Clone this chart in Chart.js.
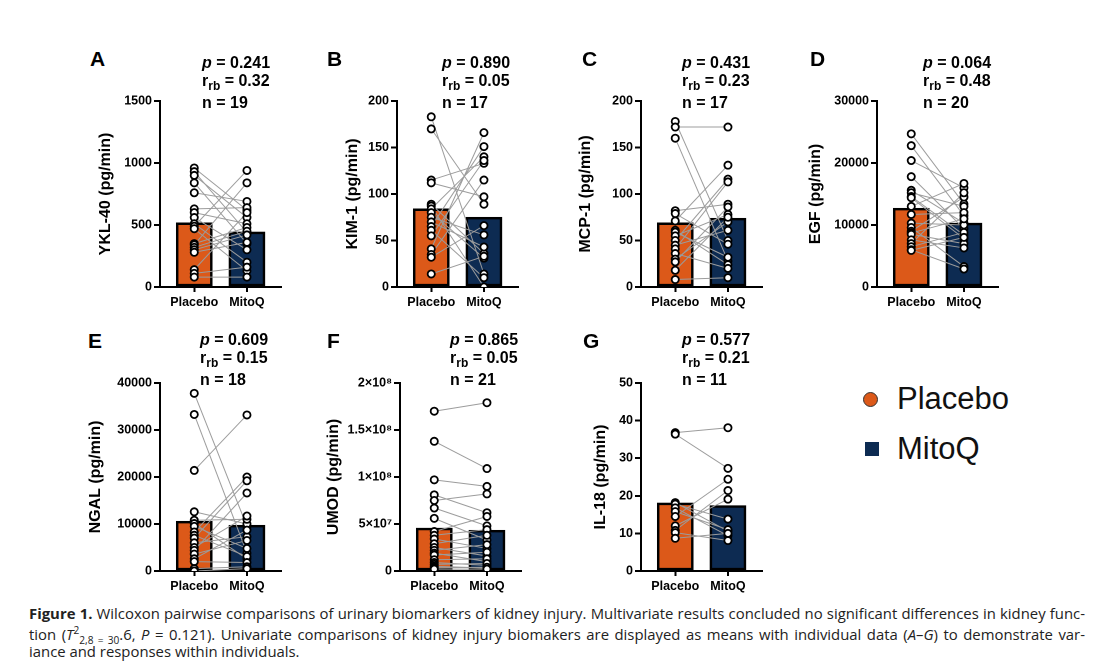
<!DOCTYPE html>
<html>
<head>
<meta charset="utf-8">
<script src="https://cdn.jsdelivr.net/npm/chart.js@4.4.1/dist/chart.umd.min.js"></script>
<style>
  body { margin: 0; background: #fff; width: 1098px; height: 666px; position: relative; overflow: hidden; font-family: "Liberation Sans", Arial, sans-serif; }
  .box { position: absolute; }
  .letter { position: absolute; font: bold 21px "Liberation Sans", Arial, sans-serif; color: #000; line-height: 1; }
  .stat { position: absolute; font: bold 16px "Liberation Sans", Arial, sans-serif; color: #000; line-height: 1; white-space: nowrap; }
  .stat sub { font-size: 12px; vertical-align: -4px; }
  .legend-item { position: absolute; font: 31px "Liberation Sans", Arial, sans-serif; color: #111; line-height: 1; }
  .caption { position: absolute; left: 29px; width: 1056px; font-family: "Open Sans", sans-serif; font-size: 13px; color: #222; line-height: 1; text-align: justify; text-align-last: justify; white-space: nowrap; }
  .caption.last { text-align-last: left; }
  .caption sup, .caption sub { font-size: 0.68em; }
</style>
</head>
<body>

<script>
// Kategori dan warna
const categories = ['Placebo', 'MitoQ'];
const orange = '#DC5919';
const navy = '#0D2B52';

// A - YKL-40 (pasangan: indeks yang sama = subjek yang sama)
const yklPlacebo = [960, 930, 900, 840, 760, 630, 600, 560, 510, 490, 470, 350, 340, 320, 300, 280, 140, 110, 80];
const yklMitoQ   = [620, 440, 560, 350, 690, 640, 510, 300, 200, 940, 130, 480, 840, 450, 420, 360, 600, 160, 80];
const yklMeans   = [517, 444];

// B - KIM-1
const kimPlacebo = [183, 170, 115, 112, 89, 87, 84, 80, 75, 70, 65, 61, 55, 41, 35, 32, 14];
const kimMitoQ   = [14, 89, 133, 97, 36, 0, 140, 31, 56, 43, 151, 10, 136, 166, 115, 66, 33];
const kimMeans   = [84, 75];

// C - MCP-1
const mcpPlacebo = [178, 172, 160, 82, 79, 71, 61, 59, 55, 50, 45, 41, 36, 30, 27, 18, 8];
const mcpMitoQ   = [50, 172, 28, 89, 46, 131, 24, 32, 78, 116, 61, 113, 20, 70, 86, 75, 10];
const mcpMeans   = [69, 74];

// D - EGF
const egfPlacebo = [24700, 22800, 20400, 17800, 15600, 15200, 14600, 14400, 13000, 11700, 10300, 9600, 9000, 8700, 8500, 7600, 7000, 6500, 6000, 5900];
const egfMitoQ   = [13400, 11500, 16000, 9400, 10300, 13000, 8400, 7800, 16700, 12000, 10000, 3300, 14500, 11000, 7000, 6300, 15200, 8800, 2900, 8000];
const egfMeans   = [12700, 10300];

// E - NGAL
const ngalPlacebo = [37800, 33300, 21400, 12600, 10800, 10100, 9500, 8300, 7600, 7000, 6000, 5000, 4400, 3600, 2600, 2000, 500, 0];
const ngalMitoQ   = [9500, 3800, 33200, 10000, 11000, 2600, 4800, 20000, 3100, 19200, 7300, 11700, 16600, 6500, 8700, 1800, 900, 500];
const ngalMeans   = [10600, 9750];

// F - UMOD
const umodPlacebo = [1.70e8, 1.38e8, 9.7e7, 8.1e7, 7.5e7, 6.7e7, 5.6e7, 4.2e7, 3.8e7, 3.4e7, 2.9e7, 2.5e7, 2.2e7, 1.9e7, 1.7e7, 1.2e7, 9e6, 7e6, 5e6, 3.5e6, 2e6];
const umodMitoQ   = [1.79e8, 1.09e8, 9.0e7, 6.2e7, 8.2e7, 4.8e7, 3.3e7, 5.8e7, 4.4e7, 2.4e7, 3.8e7, 1.6e7, 2.8e7, 1.0e7, 2.0e7, 1.3e7, 6e6, 8e6, 3e6, 4e6, 2e6];
const umodMeans   = [4.56e7, 4.34e7];
const umodTicks   = ['0', '5×10⁷', '1×10⁸', '1.5×10⁸', '2×10⁸'];

// G - IL-18
const il18Placebo = [36.8, 36.4, 18.2, 17.8, 16.8, 15.8, 14.5, 12.0, 10.8, 10.2, 8.7];
const il18MitoQ   = [38.1, 27.3, 10.6, 13.8, 9.4, 11.0, 24.4, 19.1, 21.4, 8.1, 10.0];
const il18Means   = [18.1, 17.4];

// Panel: posisi sumbu (x sumbu-y, atas, tinggi plot) dan teks statistik
const panels = [
  { id: 'A', title: 'YKL-40 (pg/min)', pl: yklPlacebo, mq: yklMitoQ, means: yklMeans, max: 1500, step: 500, ax: 160, top: 101, h: 186, tpad: 36, p: '0.241', r: '0.32', n: 19, lx: 90, sx: 202, row: 0 },
  { id: 'B', title: 'KIM-1 (pg/min)', pl: kimPlacebo, mq: kimMitoQ, means: kimMeans, max: 200, step: 50, ax: 397, top: 101, h: 186, tpad: 46, p: '0.890', r: '0.05', n: 17, lx: 327, sx: 442, row: 0 },
  { id: 'C', title: 'MCP-1 (pg/min)', pl: mcpPlacebo, mq: mcpMitoQ, means: mcpMeans, max: 200, step: 50, ax: 641, top: 101, h: 186, tpad: 35, p: '0.431', r: '0.23', n: 17, lx: 582, sx: 682, row: 0 },
  { id: 'D', title: 'EGF (pg/min)', pl: egfPlacebo, mq: egfMitoQ, means: egfMeans, max: 30000, step: 10000, ax: 877, top: 101, h: 186, tpad: 29, p: '0.064', r: '0.48', n: 20, lx: 810, sx: 923, row: 0 },
  { id: 'E', title: 'NGAL (pg/min)', pl: ngalPlacebo, mq: ngalMitoQ, means: ngalMeans, max: 40000, step: 10000, ax: 160, top: 383, h: 188, tpad: 26, p: '0.609', r: '0.15', n: 18, lx: 88, sx: 200, row: 1 },
  { id: 'F', title: 'UMOD (pg/min)', pl: umodPlacebo, mq: umodMitoQ, means: umodMeans, max: 2e8, step: 5e7, ax: 400, top: 383, h: 188, tpad: 24, p: '0.865', r: '0.05', n: 21, lx: 327, sx: 450, row: 1, ticks: umodTicks },
  { id: 'G', title: 'IL-18 (pg/min)', pl: il18Placebo, mq: il18MitoQ, means: il18Means, max: 50, step: 10, ax: 641, top: 383, h: 188, tpad: 50, p: '0.577', r: '0.21', n: 11, lx: 583, sx: 682, row: 1 }
];

const statRows = [[55, 73, 95], [332, 350, 372]];
const letterTop = [48, 330];

// geser kanvas supaya area plot tepat di posisi sumbu
const placePlugin = {
  id: 'place',
  afterLayout(chart, args, opts) {
    const box = chart.canvas.parentNode;
    box.style.left = (opts.x - chart.chartArea.left) + 'px';
    box.style.top = (opts.y - chart.chartArea.top) + 'px';
  }
};

const YW = 100;
const PLOT_W = 123;
const XH = 30;
const TOPPAD = 10;

function addText(cls, x, y, html) {
  const el = document.createElement('div');
  el.className = cls;
  el.style.left = x + 'px';
  el.style.top = y + 'px';
  el.innerHTML = html;
  document.body.appendChild(el);
}

panels.forEach(pn => {
  const box = document.createElement('div');
  box.className = 'box';
  const cv = document.createElement('canvas');
  const w = YW + PLOT_W + 4;
  const h = TOPPAD + pn.h + XH;
  cv.width = w; cv.height = h;
  cv.style.width = w + 'px'; cv.style.height = h + 'px';
  box.appendChild(cv);
  document.body.appendChild(box);

  // garis abu-abu untuk tiap pasangan
  const pairSets = pn.pl.map((v, i) => ({
    type: 'line',
    data: [{ x: 0, y: v }, { x: 1, y: pn.mq[i] }],
    borderColor: '#9c9c9c',
    borderWidth: 1,
    pointRadius: 0,
    order: 2
  }));

  const dotStyle = {
    type: 'line',
    showLine: false,
    pointRadius: 3.6,
    pointBorderWidth: 1.8,
    pointBackgroundColor: '#fff',
    pointBorderColor: '#000',
    order: 1
  };

  new Chart(cv, {
    type: 'bar',
    data: {
      datasets: [
        {
          type: 'bar',
          data: pn.means.map((m, i) => ({ x: i, y: m })),
          backgroundColor: [orange, navy],
          borderColor: '#000',
          borderWidth: 2.5,
          borderSkipped: false,
          barThickness: 36,
          order: 3
        },
        ...pairSets,
        Object.assign({ data: pn.pl.map(v => ({ x: 0, y: v })) }, dotStyle),
        Object.assign({ data: pn.mq.map(v => ({ x: 1, y: v })) }, dotStyle)
      ]
    },
    options: {
      responsive: false,
      animation: false,
      devicePixelRatio: 2,
      layout: { padding: { top: TOPPAD, right: 4, left: 0, bottom: 0 } },
      plugins: {
        legend: { display: false },
        tooltip: { enabled: false },
        place: { x: pn.ax, y: pn.top }
      },
      scales: {
        x: {
          type: 'linear',
          offset: false,
          min: -0.65,
          max: 1.65,
          afterBuildTicks: s => { s.ticks = categories.map((c, i) => ({ value: i })); },
          afterFit: s => { s.height = XH; },
          grid: { offset: false, drawOnChartArea: false, drawTicks: true, tickLength: 5, color: '#000', lineWidth: 2 },
          border: { display: true, color: '#000', width: 2 },
          ticks: {
            autoSkip: false,
            maxRotation: 0,
            padding: 3,
            color: '#000',
            font: { family: 'Liberation Sans', weight: 'bold', size: 12.5 },
            callback: v => categories[v]
          }
        },
        y: {
          min: 0,
          max: pn.max,
          afterFit: s => { s.width = YW; },
          grid: { drawOnChartArea: false, drawTicks: true, tickLength: 6, color: '#000', lineWidth: 2 },
          border: { display: true, color: '#000', width: 2 },
          ticks: {
            stepSize: pn.step,
            padding: 2,
            color: '#000',
            font: { family: 'Liberation Sans', weight: 'bold', size: 12.5 },
            callback: (v, i) => pn.ticks ? pn.ticks[i] : String(v)
          },
          title: {
            display: true,
            text: pn.title,
            color: '#000',
            padding: { top: pn.tpad, bottom: 0 },
            font: { family: 'Liberation Sans', weight: 'bold', size: 16 }
          }
        }
      }
    },
    plugins: [placePlugin]
  });

  // huruf panel dan statistik
  addText('letter', pn.lx, letterTop[pn.row], pn.id);
  const rows = statRows[pn.row];
  addText('stat', pn.sx, rows[0], '<i>p</i> = ' + pn.p);
  addText('stat', pn.sx, rows[1], 'r<sub>rb</sub> = ' + pn.r);
  addText('stat', pn.sx, rows[2], 'n = ' + pn.n);
});

// legenda
addText('legend-item', 863, 383, '<span style="position:absolute;left:0;top:9px;width:13px;height:13px;border-radius:50%;background:' + orange + ';border:1.5px solid #333"></span><span style="position:absolute;left:34px;top:0">Placebo</span>');
addText('legend-item', 865, 433, '<span style="position:absolute;left:0;top:9px;width:14px;height:14px;background:' + navy + '"></span><span style="position:absolute;left:32px;top:0">MitoQ</span>');
</script>

<div class="caption" id="cap1" style="top:606px"><span id="cap1in"><b>Figure 1.</b> Wilcoxon pairwise comparisons of urinary biomarkers of kidney injury. Multivariate results concluded no significant differences in kidney func-</span></div>
<div class="caption" style="top:625px">tion (<i>T</i><sup>2</sup><sub>2,8 = 30</sub>.6, <i>P</i> = 0.121). Univariate comparisons of kidney injury biomakers are displayed as means with individual data (<i>A</i>–<i>G</i>) to demonstrate var-</div>
<div class="caption last" style="top:644px">iance and responses within individuals.</div>

<script>
// ukur lebar alami baris pertama (tanpa justify) lalu sesuaikan ukuran font
const cap1 = document.getElementById('cap1');
cap1.style.textAlign = 'left';
cap1.style.textAlignLast = 'left';
const natural = document.getElementById('cap1in').getBoundingClientRect().width;
cap1.style.textAlign = '';
cap1.style.textAlignLast = '';
const fs = Math.min(16, 13 * 1050 / natural);
document.querySelectorAll('.caption').forEach(c => { c.style.fontSize = fs + 'px'; });
</script>
</body>
</html>
